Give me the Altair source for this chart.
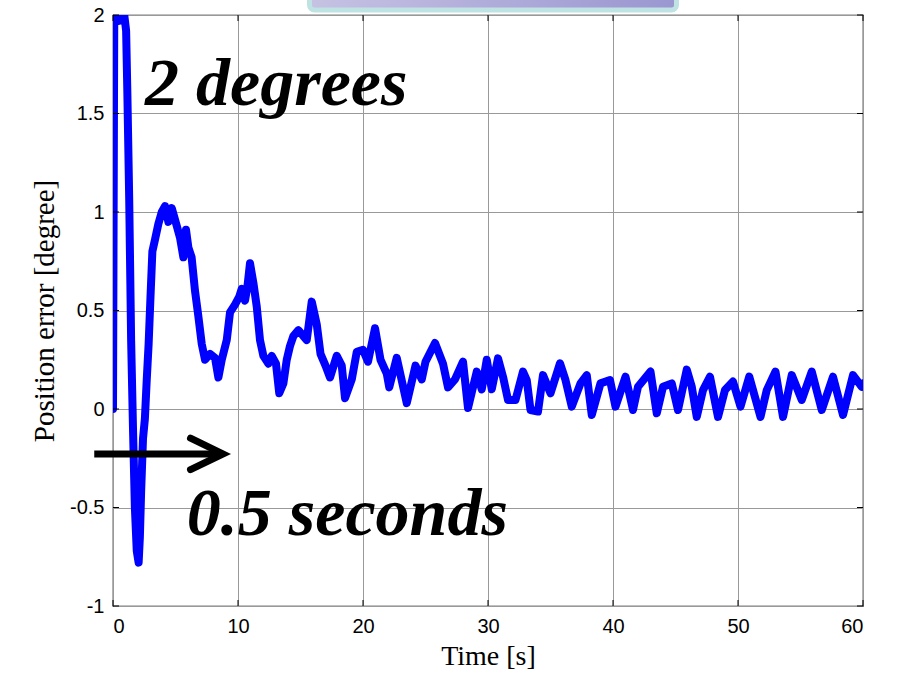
import altair as alt
import pandas as pd

# ---- data ----
time_s = [0, 0.1, 0.3, 0.5, 0.7, 0.9, 1.05, 1.15, 1.3, 1.45, 1.6, 1.75, 1.9, 2.05, 2.15, 2.25,
          2.4, 2.55, 2.7, 2.85, 3.0, 3.15, 3.36, 3.63, 3.9, 4.16, 4.43, 4.7, 5.1, 5.36, 5.63, 5.84,
          6.03, 6.29, 6.56, 6.83, 7.1, 7.36, 7.76, 8.16, 8.43, 8.7, 9.1, 9.36, 9.76, 10.1, 10.3,
          10.56, 10.75, 10.96, 11.23, 11.5, 11.76, 12.03, 12.43, 12.7, 13.04, 13.3, 13.63, 13.9,
          14.16, 14.43, 14.83, 15.23, 15.5, 15.9, 16.3, 16.6, 17.0, 17.36, 17.9, 18.3, 18.56, 19.1,
          19.5, 20.0, 20.4, 20.96, 21.4, 21.9, 22.1, 22.7, 23.5, 24.2, 24.7, 25.0, 25.76, 26.4, 26.8,
          27.36, 28.0, 28.4, 29.1, 29.5, 29.9, 30.3, 30.8, 31.2, 31.6, 32.2, 32.8, 33.1, 33.4, 34.0,
          34.4, 35.0, 35.76, 36.2, 36.7, 37.4, 37.9, 38.3, 39.0, 39.76, 40.2, 41.0, 41.6, 42.0, 43.0,
          43.5, 44.0, 44.7, 45.2, 45.9, 46.3, 46.7, 47.2, 47.76, 48.4, 48.96, 49.6, 50.2, 50.9, 51.8,
          52.3, 53.0, 53.6, 54.3, 55.1, 55.9, 56.7, 57.6, 58.4, 59.2, 59.9, 60.0]
error_deg = [0, 1.97, 2.0, 1.97, 1.99, 2.0, 1.92, 1.6, 1.05, 0.35, -0.1, -0.5, -0.72, -0.78, -0.65, -0.42,
             -0.15, -0.05, 0.15, 0.33, 0.57, 0.8, 0.86, 0.94, 1.0, 1.03, 0.95, 1.02, 0.93, 0.87, 0.77, 0.91,
             0.82, 0.77, 0.6, 0.47, 0.33, 0.25, 0.28, 0.26, 0.16, 0.25, 0.35, 0.49, 0.53, 0.57, 0.61,
             0.55, 0.62, 0.74, 0.64, 0.52, 0.35, 0.27, 0.23, 0.27, 0.23, 0.08, 0.13, 0.25,
             0.32, 0.37, 0.4, 0.37, 0.35, 0.545, 0.43, 0.28, 0.22, 0.16, 0.27, 0.22, 0.055, 0.15,
             0.29, 0.30, 0.24, 0.41, 0.25, 0.18, 0.11, 0.26, 0.03, 0.22, 0.15, 0.24, 0.335, 0.23, 0.11,
             0.15, 0.24, 0.005, 0.19, 0.1, 0.25, 0.10, 0.257, 0.164, 0.046, 0.046, 0.19, 0.147, -0.005, -0.013,
             0.172, 0.08, 0.232, 0.147, 0.012, 0.13, 0.172, -0.03, 0.13, 0.147, 0.012, 0.164, -0.005, 0.113, 0.19,
             -0.022, 0.113, 0.13, -0.005, 0.2, 0.113, -0.04, 0.096, 0.164, -0.04, 0.096, 0.139, 0.012, 0.164, -0.04,
             0.096, 0.19, -0.04, 0.172, 0.046, 0.19, -0.005, 0.164, -0.03, 0.172, 0.113, 0.13]

x_ticks = [0, 10, 20, 30, 40, 50, 60]
y_ticks = [-1, -0.5, 0, 0.5, 1, 1.5, 2]

notes = ["2 degrees", "0.5 seconds"]
note_t = [2.56, 5.9]
note_v = [1.543, -0.64]

arrow_t = [-1.5, 8.6]
arrow_v = [-0.228, -0.228]
head_t = [6.2, 8.8, 6.2]
head_v = [-0.148, -0.228, -0.308]

box_t = [15.72, 45.08]

W, H = 750, 591

n = min(len(time_s), len(error_deg))
df = pd.DataFrame({"t": time_s[:n], "v": error_deg[:n]})

xscale = alt.Scale(domain=[0, 60], nice=False, zero=False)
yscale = alt.Scale(domain=[-1, 2], nice=False, zero=False)

serif = "Liberation Serif"
sans = "Liberation Sans"
gridc = "#999999"

base_x = alt.X("t:Q", scale=xscale,
               axis=alt.Axis(values=x_ticks, title="Time [s]", titleFont=serif, titleFontSize=28,
                             titleFontWeight="normal", titleColor="black", titlePadding=6,
                             labelFont=sans, labelFontSize=20, labelColor="black", labelPadding=10,
                             ticks=False, domain=False, grid=True, gridColor=gridc, gridWidth=1,
                             labelExpr="datum.value + ''"))
base_y = alt.Y("v:Q", scale=yscale,
               axis=alt.Axis(values=y_ticks, title="Position error [degree]", titleFont=serif,
                             titleFontSize=29, titleFontWeight="normal", titleColor="black",
                             titlePadding=10,
                             labelFont=sans, labelFontSize=20, labelColor="black", labelPadding=9,
                             ticks=False, domain=False, grid=True, gridColor=gridc, gridWidth=1,
                             labelExpr="datum.value + ''"))

line = alt.Chart(df).mark_line(color="#0000ff", strokeWidth=8, strokeJoin="round",
                               strokeCap="round", clip=True).encode(x=base_x, y=base_y)

xt = pd.DataFrame({"t": x_ticks})
yt = pd.DataFrame({"v": y_ticks})
tick_b = alt.Chart(xt).mark_rule(color="black", strokeWidth=1).encode(
    x=alt.X("t:Q", scale=xscale), y=alt.value(H), y2=alt.value(H - 6))
tick_t = alt.Chart(xt).mark_rule(color="black", strokeWidth=1).encode(
    x=alt.X("t:Q", scale=xscale), y=alt.value(0), y2=alt.value(6))
tick_l = alt.Chart(yt).mark_rule(color="black", strokeWidth=1).encode(
    y=alt.Y("v:Q", scale=yscale), x=alt.value(0), x2=alt.value(6))
tick_r = alt.Chart(yt).mark_rule(color="black", strokeWidth=1).encode(
    y=alt.Y("v:Q", scale=yscale), x=alt.value(W), x2=alt.value(W - 6))

arrow_df = pd.DataFrame({"t": arrow_t, "v": arrow_v})
arrow = alt.Chart(arrow_df).mark_line(color="black", strokeWidth=7, strokeCap="butt").encode(
    x=alt.X("t:Q", scale=xscale), y=alt.Y("v:Q", scale=yscale))
head_df = pd.DataFrame({"t": head_t, "v": head_v, "o": [0, 1, 2]})
head = alt.Chart(head_df).mark_line(color="black", strokeWidth=7, strokeCap="round",
                                    strokeJoin="miter").encode(
    x=alt.X("t:Q", scale=xscale), y=alt.Y("v:Q", scale=yscale), order="o:Q")

notes_df = pd.DataFrame({"label": notes, "t": note_t, "v": note_v})
texts = alt.Chart(notes_df).mark_text(font=serif, fontSize=68, fontWeight="bold",
                                      fontStyle="italic", align="left", baseline="alphabetic",
                                      color="black").encode(
    x=alt.X("t:Q", scale=xscale), y=alt.Y("v:Q", scale=yscale), text="label:N")

box_df = pd.DataFrame({"a": [box_t[0]], "b": [box_t[1]]})
grad = alt.Gradient(gradient="linear",
                    stops=[alt.GradientStop(color="#c6c2e3", offset=0),
                           alt.GradientStop(color="#9a96d0", offset=1)],
                    x1=0, x2=1, y1=0, y2=0)
box = alt.Chart(box_df).mark_rect(fill=grad, stroke="#bfe2e2", strokeWidth=5,
                                  cornerRadius=5).encode(
    x=alt.X("a:Q", scale=xscale), x2="b:Q", y=alt.value(-40), y2=alt.value(-5))

chart = alt.layer(line, tick_b, tick_t, tick_l, tick_r, arrow, head, texts, box).properties(
    width=W, height=H,
    autosize=alt.AutoSizeParams(type="none"),
    padding={"left": 113, "top": 15, "right": 44, "bottom": 73},
    background="white",
).configure_view(stroke="black", strokeWidth=1.2)

chart.save("out.html", embed_options={"renderer": "svg", "actions": False})
